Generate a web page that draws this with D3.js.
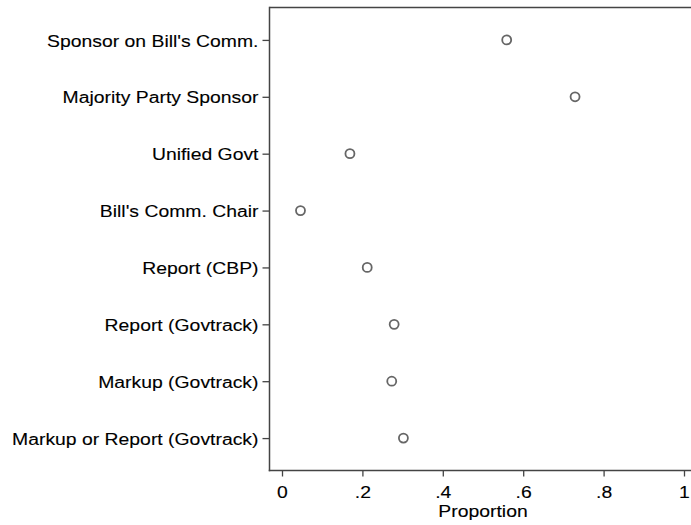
<!DOCTYPE html>
<html>
<head>
<meta charset="utf-8">
<script src="https://cdn.jsdelivr.net/npm/d3@7"></script>
<style>
  html, body { margin: 0; padding: 0; background: #fff; }
  svg { display: block; }
  text { font-family: "Liberation Sans", Arial, Helvetica, sans-serif; fill: #000; stroke: #000; stroke-width: 0.12px; }
</style>
</head>
<body>
<svg id="chart" width="691" height="525"></svg>
<script>
// Share of bills with each characteristic
const categories = [
  "Sponsor on Bill's Comm.",
  "Majority Party Sponsor",
  "Unified Govt",
  "Bill's Comm. Chair",
  "Report (CBP)",
  "Report (Govtrack)",
  "Markup (Govtrack)",
  "Markup or Report (Govtrack)"
];
const proportions = [0.559, 0.729, 0.169, 0.046, 0.212, 0.279, 0.273, 0.302];
const xTicks = [0, 0.2, 0.4, 0.6, 0.8, 1];
const xTickLabels = ["0", ".2", ".4", ".6", ".8", "1"];
const xTitle = "Proportion";

const svg = d3.select("#chart");
const frame = { left: 269.5, top: 7.5, bottom: 470.5, right: 700 };
const stretch = 1.12;   // wide glyph setting used for all labels
const fontPx = 17.3;

const x = d3.scaleLinear().domain([0, 1]).range([282, 684]);
const y = d3.scalePoint().domain(categories).range([frame.top, frame.bottom]).padding(0.57);

const axisColor = "#444";

// plot region outline: top and left edges
svg.append("line")
  .attr("x1", frame.left).attr("x2", frame.right)
  .attr("y1", frame.top).attr("y2", frame.top)
  .attr("stroke", axisColor).attr("stroke-width", 1.5);

// y axis
const yAxis = svg.append("g")
  .attr("transform", `translate(${frame.left},0)`)
  .call(d3.axisLeft(y).tickSize(7).tickSizeOuter(0));
yAxis.select(".domain").remove();
yAxis.append("line")
  .attr("x1", 0).attr("x2", 0)
  .attr("y1", frame.top - 0.75).attr("y2", frame.bottom + 0.75)
  .attr("stroke", axisColor).attr("stroke-width", 1.5);
yAxis.selectAll(".tick line").attr("stroke", axisColor).attr("stroke-width", 1.3);
yAxis.selectAll(".tick text")
  .attr("x", null).attr("dy", null)
  .attr("dominant-baseline", "central")
  .attr("transform", `translate(-11,0) scale(${stretch},1)`)
  .style("font-size", fontPx + "px")
  .style("font-family", "'Liberation Sans', Arial, Helvetica, sans-serif")
  .attr("fill", "#000");

// x axis
const xAxis = svg.append("g")
  .attr("transform", `translate(0,${frame.bottom})`)
  .call(d3.axisBottom(x).tickValues(xTicks)
    .tickFormat((d, i) => xTickLabels[i]).tickSize(6).tickSizeOuter(0));
xAxis.select(".domain").remove();
xAxis.append("line")
  .attr("x1", frame.left - 0.75).attr("x2", frame.right)
  .attr("y1", 0).attr("y2", 0)
  .attr("stroke", axisColor).attr("stroke-width", 1.5);
xAxis.selectAll(".tick line").attr("stroke", axisColor).attr("stroke-width", 1.3);
xAxis.selectAll(".tick text")
  .attr("y", null).attr("dy", null)
  .attr("transform", `translate(0,27.8) scale(${stretch},1)`)
  .style("font-size", fontPx + "px")
  .style("font-family", "'Liberation Sans', Arial, Helvetica, sans-serif")
  .attr("fill", "#000");

// x axis title
svg.append("text")
  .attr("transform", `translate(${x(0.5)},517) scale(${stretch},1)`)
  .attr("text-anchor", "middle")
  .style("font-size", fontPx + "px")
  .text(xTitle);

// hollow markers
svg.append("g").selectAll("circle")
  .data(categories.map((c, i) => ({ c, v: proportions[i] })))
  .join("circle")
  .attr("cx", d => x(d.v))
  .attr("cy", d => y(d.c))
  .attr("r", 4.5)
  .attr("fill", "none")
  .attr("stroke", "#666")
  .attr("stroke-width", 1.8);
</script>
</body>
</html>
